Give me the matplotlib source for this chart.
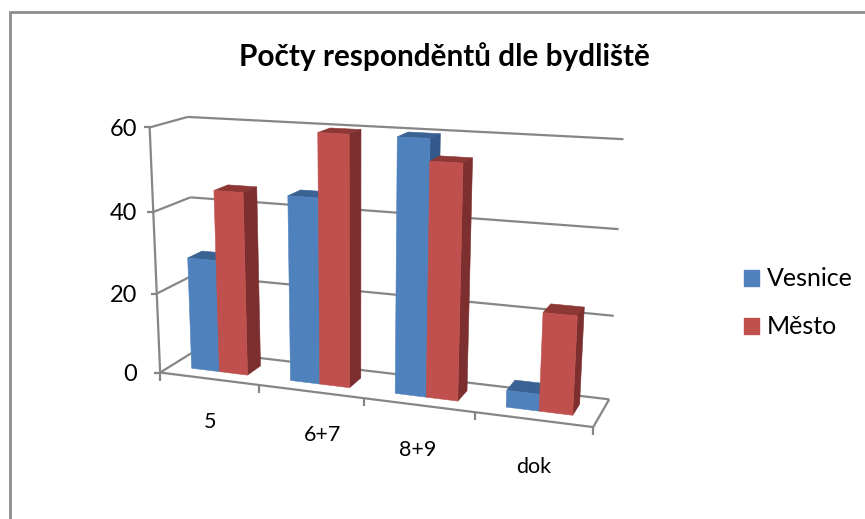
import numpy as np
import matplotlib
matplotlib.use('Agg')
import matplotlib.pyplot as plt
from matplotlib.patches import Polygon, Patch

categories = ['5', '6+7', '8+9', 'dok']
vesnice = [28, 45, 60, 4]
mesto = [45, 60, 55, 23]
value_ticks = [0, 20, 40, 60]

BLUE = ['#4F81BD', '#3A6293', '#33598A']
RED = ['#C0504D', '#8E3836', '#7C2F2E']
GRAY = '#868686'
plt.rcParams['font.family'] = ['Lato', 'DejaVu Sans']

# box corners (category, value, depth) -> pixel
calib_3d = [(0, 0, 0), (0, 20, 0), (0, 40, 0), (0, 60, 0), (0, 0, 1), (0, 40, 1), (0, 60, 1),
            (1, 0, 0), (3, 0, 0), (4, 0, 0), (4, 0, 1), (4, 20, 1), (4, 40, 1), (4, 60, 1)]
calib_px = [(162, 371), (157, 293), (152, 212), (148, 128), (193, 352), (192, 197), (189, 117),
            (260, 385), (475, 413), (593, 428), (609, 398), (614, 316), (619, 229), (623, 139)]


def fit_projection(src, dst):
    rows = []
    for (u, v, w), (x, y) in zip(src, dst):
        X = [u, v, w, 1]
        rows.append(X + [0, 0, 0, 0] + [-x * c for c in X])
        rows.append([0, 0, 0, 0] + X + [-y * c for c in X])
    return np.linalg.svd(np.array(rows, float))[2][-1].reshape(3, 4)


P = fit_projection(calib_3d, calib_px)


def proj(u, v, w):
    a = P @ np.array([u, v, w, 1.0])
    return a[0] / a[2], a[1] / a[2]


def draw_bar(ax, u0, u1, val, colors):
    w0, w1 = 0.3, 0.7
    faces = [
        ([(u0, val, w0), (u1, val, w0), (u1, val, w1), (u0, val, w1)], colors[1]),
        ([(u1, 0, w0), (u1, val, w0), (u1, val, w1), (u1, 0, w1)], colors[2]),
        ([(u0, 0, w0), (u1, 0, w0), (u1, val, w0), (u0, val, w0)], colors[0]),
    ]
    for pts, c in faces:
        ax.add_patch(Polygon([proj(*p) for p in pts], closed=True, facecolor=c,
                             edgecolor=c, linewidth=0.4, zorder=3))


def line(ax, a, b, lw=1.6):
    ax.plot([a[0], b[0]], [a[1], b[1]], color=GRAY, lw=lw, solid_capstyle='butt', zorder=2)


fig = plt.figure(figsize=(8.65, 5.19), dpi=100)
ax = fig.add_axes([0, 0, 1, 1])
ax.set_xlim(0, 865)
ax.set_ylim(519, 0)
ax.axis('off')

# chart frame, only top and left show
ax.plot([9.5, 9.5, 865], [519, 11.5, 11.5], color='#8C8C8C', lw=2, solid_joinstyle='miter')

n = len(categories)
for v in value_ticks:
    f = proj(0, v, 0)
    line(ax, proj(0, v, 0), proj(0, v, 1))
    line(ax, proj(0, v, 1), proj(n, v, 1))
    line(ax, (f[0] - 6, f[1]), f)
    ax.text(137, f[1] + 2, str(v), ha='right', va='center', fontsize=17, color='black')

line(ax, proj(0, 0, 0), proj(0, 60, 0))
line(ax, proj(0, 0, 0), proj(n, 0, 0))
line(ax, proj(n, 0, 0), proj(n, 0, 1))
for i in range(n + 1):
    f = proj(i, 0, 0)
    line(ax, f, (f[0], f[1] + 8))

bar_w = 1 / 3.5
for i in range(n):
    u0 = i + 1.5 / 7
    draw_bar(ax, u0, u0 + bar_w, vesnice[i], BLUE)
    draw_bar(ax, u0 + bar_w, u0 + 2 * bar_w, mesto[i], RED)

label_xy = [(210, 422), (323, 435), (418, 450), (534, 467)]
for lab, (x, y) in zip(categories, label_xy):
    ax.text(x, y, lab, ha='center', va='center', fontsize=15.5, color='black')

ax.text(444, 57, 'Počty responděntů dle bydliště', ha='center', va='center',
        fontsize=21.4, fontweight='bold', color='black')

handles = [Patch(color=BLUE[0], label='Vesnice'), Patch(color=RED[0], label='Město')]
ax.legend(handles=handles, loc='center left', bbox_to_anchor=(744 / 865, 1 - 303 / 519),
          frameon=False, fontsize=18, handlelength=0.6, handleheight=0.6, handletextpad=0.3,
          labelspacing=1.0, borderaxespad=0, borderpad=0, labelcolor='black')

fig.savefig('out.png', dpi=100)
